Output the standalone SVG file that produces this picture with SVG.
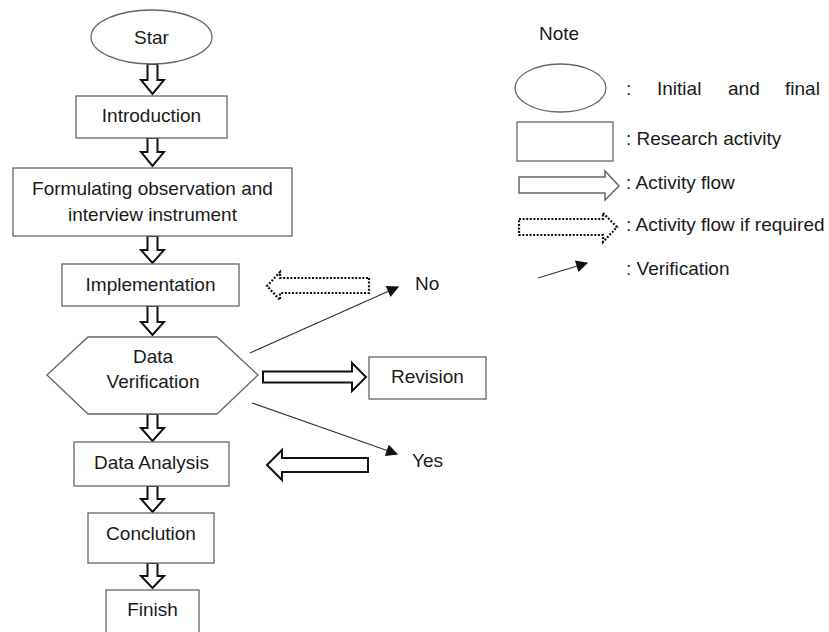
<svg xmlns="http://www.w3.org/2000/svg" width="829" height="632" viewBox="0 0 829 632">
<defs>
<style>
.box{fill:#fff;stroke:#666;stroke-width:1.3}
.blk{fill:#fff;stroke:#111;stroke-width:2}
.dot{fill:#fff;stroke:#111;stroke-width:2.2;stroke-dasharray:2 1.6}
.lgb{fill:#fff;stroke:#666;stroke-width:1.5}
.ver{stroke:#333;stroke-width:1.2;fill:none}
text{font-family:"Liberation Sans",Arial,sans-serif;font-size:19px;fill:#1a1a1a}
.c{text-anchor:middle}
</style>
<marker id="tri" viewBox="0 0 10 10" refX="9" refY="5" markerWidth="20" markerHeight="12" markerUnits="userSpaceOnUse" orient="auto">
<path d="M0,0 L10,5 L0,10 Z" fill="#111"/>
</marker>
</defs>
<rect width="829" height="632" fill="#fff"/>

<g id="connectors">
<path class="blk" d="M147.5,64 H157.5 V80 H164 L152.5,94 L141,80 H147.5 Z"/>
<path class="blk" d="M147.5,138 H157.5 V152 H164 L152.5,166 L141,152 H147.5 Z"/>
<path class="blk" d="M147.5,236 H157.5 V250 H164 L152.5,263 L141,250 H147.5 Z"/>
<path class="blk" d="M147.5,306 H157.5 V322 H164 L152.5,335 L141,322 H147.5 Z"/>
<path class="blk" d="M147.5,414 H157.5 V428 H164 L152.5,441 L141,428 H147.5 Z"/>
<path class="blk" d="M147.5,486 H157.5 V499 H164 L152.5,512 L141,499 H147.5 Z"/>
<path class="blk" d="M147.5,563 H157.5 V576 H164 L152.5,588 L141,576 H147.5 Z"/>
<path class="dot" d="M369,278 V293 H280 V300 L267,286 L280,272 V278 Z"/>
<path class="blk" d="M263,371.5 H352 V363 L366,377 L352,391 V382.5 H263 Z"/>
<path class="blk" d="M368,458 V472 H282 V480 L267,465 L282,450 V458 Z"/>
<line class="ver" x1="250" y1="353" x2="398" y2="287" marker-end="url(#tri)"/>
<line class="ver" x1="252" y1="403" x2="397" y2="454" marker-end="url(#tri)"/>
</g>

<g id="start"><ellipse class="box" cx="151.5" cy="37" rx="60.5" ry="27"/><text class="c" x="151.5" y="44">Star</text></g>
<g id="introduction"><rect class="box" x="76" y="96" width="151" height="42"/><text class="c" x="151.5" y="122">Introduction</text></g>
<g id="formulating"><rect class="box" x="13" y="168" width="279" height="68"/><text class="c" x="152.5" y="195">Formulating observation and</text><text class="c" x="152.5" y="221">interview instrument</text></g>
<g id="implementation"><rect class="box" x="62" y="264" width="177" height="42"/><text class="c" x="150.5" y="291">Implementation</text></g>
<g id="verification"><polygon class="box" points="47,375 88,337 217,337 258,375 217,414 88,414"/><text class="c" x="153" y="363">Data</text><text class="c" x="153" y="388">Verification</text></g>
<g id="revision"><rect class="box" x="369" y="357" width="117" height="42"/><text class="c" x="427.5" y="383">Revision</text></g>
<g id="no"><text x="415" y="290">No</text></g>
<g id="yes"><text x="412" y="467">Yes</text></g>
<g id="analysis"><rect class="box" x="74" y="442" width="155" height="44"/><text class="c" x="151.5" y="469">Data Analysis</text></g>
<g id="conclution"><rect class="box" x="88" y="513" width="126" height="50"/><text class="c" x="151" y="540">Conclution</text></g>
<g id="finish"><rect class="box" x="106" y="590" width="93" height="60"/><text class="c" x="152.5" y="616">Finish</text></g>

<g id="legend">
<text x="539" y="40">Note</text>
<ellipse class="box" cx="560.5" cy="88" rx="45.5" ry="24"/>
<text x="626" y="95">:</text><text x="657" y="95">Initial</text><text x="728" y="95">and</text><text x="785" y="95">final</text>
<rect class="box" x="517" y="122" width="96" height="39"/>
<text x="626" y="145">: Research activity</text>
<path class="lgb" d="M519,177 H605 V171 L619,186 L605,200 V193 H519 Z"/>
<text x="626" y="189">: Activity flow</text>
<path class="dot" d="M519,219 H603 V213 L617,227 L603,242 V235 H519 Z"/>
<text x="626" y="231">: Activity flow if required</text>
<line class="ver" x1="538" y1="278" x2="587" y2="263" marker-end="url(#tri)"/>
<text x="626" y="275">: Verification</text>
</g>
</svg>
